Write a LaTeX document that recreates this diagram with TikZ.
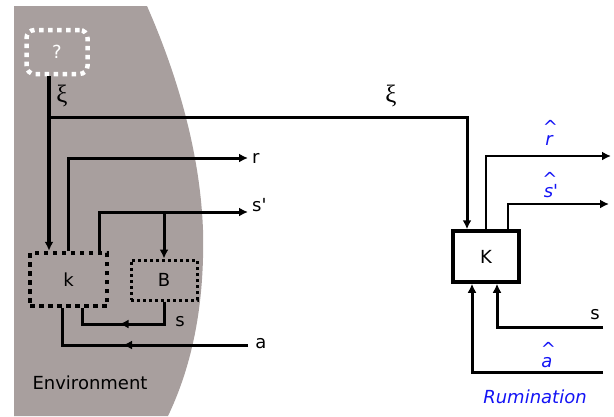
\documentclass[tikz,border=0pt]{standalone}
\usepackage{fontspec}
\setmainfont{DejaVu Sans}
\newfontfamily\xifont{Liberation Serif}
\usetikzlibrary{arrows.meta,decorations.markings}
\definecolor{envgrey}{RGB}{168,159,158}
\definecolor{rumblue}{RGB}{20,20,245}
\newcommand{\hatted}[1]{\setbox0=\hbox{#1}\rlap{\hbox to\wd0{\hss\hspace{3pt}\raisebox{12pt}[0pt][0pt]{\textup{\textasciicircum}}\hss}}\box0}
\tikzset{
  tip/.style={-{Latex[length=9pt,width=9pt]}},
  wire/.style={line width=3pt},
  thinwire/.style={line width=2.4pt},
  midarrow/.style={decoration={markings,mark=at position #1 with {\arrow{Latex[length=9pt,width=9pt]}}},postaction={decorate}},
  lbl/.style={font=\fontsize{18}{21}\selectfont,inner sep=0pt},
  xilbl/.style={inner sep=0pt,font=\xifont\fontsize{25}{28}\selectfont},
  hatlbl/.style={lbl,text=rumblue,anchor=base,font=\fontsize{18}{21}\selectfont\itshape}
}
\begin{document}
\begin{tikzpicture}[x=1pt,y=-1pt,line cap=butt,line join=miter]
\useasboundingbox (0,0) rectangle (614,416);

% --- environment region ---
\fill[envgrey] (14,6) -- (147,6) .. controls (176,72) and (200,150) .. (203,230)
  .. controls (205,310) and (190,370) .. (168,416) -- (14,416) -- cycle;
\node[lbl] (env) at (90,383) {Environment};

% --- boxes ---
\node[lbl,draw=white,text=white,line width=4.5pt,dash pattern=on 4.5pt off 4.5pt,
  rounded corners=8pt,minimum width=61pt,minimum height=44pt] (q) at (57,52) {?};
\node[lbl,draw,line width=4.5pt,dash pattern=on 4.5pt off 4.5pt,
  minimum width=77pt,minimum height=53pt] (k) at (68.5,279.5) {k};
\node[lbl,draw,line width=3pt,dash pattern=on 3pt off 3pt,
  minimum width=66pt,minimum height=40pt] (B) at (164,280) {B};
\node[lbl,draw,line width=3.5pt,
  minimum width=66pt,minimum height=51pt] (K) at (486,256.5) {K};

% --- free ends ---
\coordinate (xi) at (49,117);
\coordinate (rout) at (248,158);
\coordinate (sout) at (248,212);
\coordinate (sloop) at (0,324);
\coordinate (aout) at (248,345);
\coordinate (rhat) at (611,156);
\coordinate (shat) at (609,204);
\coordinate (sin) at (603,327);
\coordinate (ahat) at (603,372);

% --- environment wiring ---
\draw[line width=4.5pt,tip] (q.south -| xi) -- (k.north -| xi);
\draw[wire,tip] (xi) -| ([xshift=-19pt]K.north);
\draw[wire,tip] (k.north) |- (rout);
\draw[wire,tip] ([xshift=31pt]k.north) |- (sout);
\draw[wire,tip] (B.north |- sout) -- (B.north);
\draw[wire,midarrow=67pt] (B.south) -- (B.south |- sloop) -| ([xshift=13.5pt]k.south);
\draw[wire,midarrow=125pt] (aout) -| ([xshift=-6.5pt]k.south);

% --- rumination wiring ---
\draw[thinwire,tip] (K.north) |- (rhat);
\draw[thinwire,tip] ([xshift=22pt]K.north) |- (shat);
\draw[wire,tip] (sin) -| ([xshift=11pt]K.south);
\draw[wire,tip] (ahat) -| ([xshift=-14pt]K.south);

% --- labels ---
\node[xilbl] (xil) at (62,96) {ξ};
\node[xilbl] (xir) at (391,96) {ξ};
\node[lbl,anchor=west] (lr) at (252,158) {r};
\node[lbl,anchor=west] (lsp) at (252,205) {s\textquotesingle};
\node[lbl] (ls) at (180,322) {s};
\node[lbl] (la) at (261,344) {a};
\node[lbl] (lsr) at (595,315) {s};
\node[hatlbl] (lrh) at (549,145) {\hatted{r}};
\node[hatlbl] (lsh) at (551,197) {\hatted{s}\textquotesingle};
\node[hatlbl] (lah) at (547,367) {\hatted{a}};
\node[lbl,text=rumblue,font=\fontsize{18}{21}\selectfont\itshape] (rum) at (535,397) {Rumination};
\end{tikzpicture}
\end{document}
